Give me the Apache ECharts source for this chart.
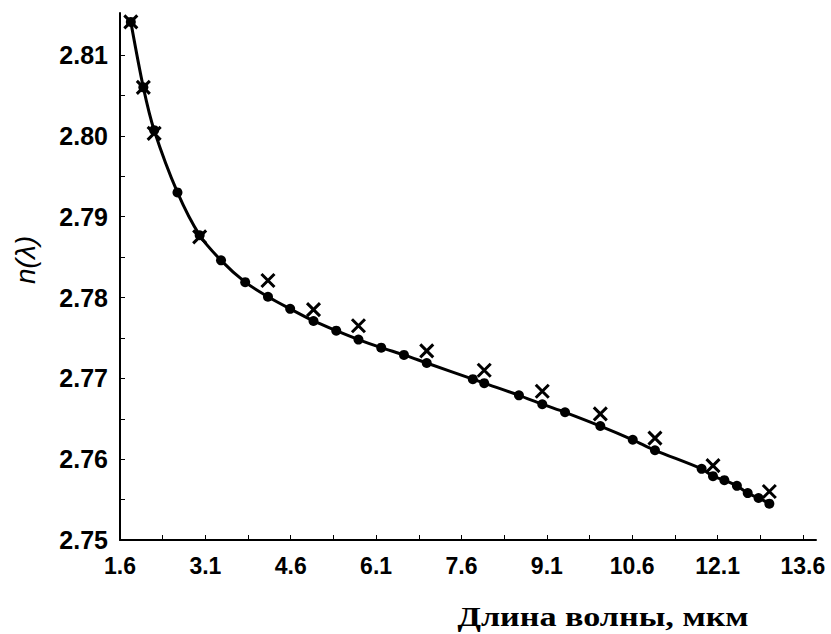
<!DOCTYPE html>
<html>
<head>
<meta charset="utf-8">
<title>n(λ)</title>
<script src="https://cdn.jsdelivr.net/npm/echarts@6/dist/echarts.min.js"></script>
<style>
  html, body { margin: 0; padding: 0; background: #fff; }
  #chart { width: 831px; height: 634px; }
</style>
</head>
<body>
<div id="chart"></div>
<script>
// Wavelength (µm) and refractive index of the computed curve (dots joined by a line)
const curveWavelength = [1.79, 2.01, 2.20, 2.61, 3.00, 3.375, 3.80, 4.20, 4.59, 5.00, 5.40, 5.79, 6.19, 6.59, 6.99,
  7.80, 8.00, 8.61, 9.02, 9.42, 10.04, 10.61, 11.00, 11.82, 12.02, 12.22, 12.44, 12.63, 12.82, 13.01];
const curveIndex = [2.8141, 2.8060, 2.8007, 2.7930, 2.7877, 2.7846, 2.7819, 2.7801, 2.7786, 2.7771, 2.7759, 2.7748, 2.7738, 2.7729, 2.7719,
  2.7699, 2.7694, 2.7679, 2.7668, 2.7658, 2.7641, 2.7624, 2.7611, 2.7588, 2.7579, 2.7574, 2.7567, 2.7558, 2.7552, 2.7545];

// Measured values (crosses)
const measuredWavelength = [1.79, 2.01, 2.20, 3.00, 4.20, 5.00, 5.79, 6.99, 8.00, 9.02, 10.04, 11.00, 12.02, 13.01];
const measuredIndex = [2.8141, 2.8060, 2.8003, 2.7875, 2.7821, 2.7785, 2.7765, 2.7734, 2.7710, 2.7684, 2.7656, 2.7626, 2.7592, 2.7560];

// Axis ticks and labels
const xLabelValues = [1.6, 3.1, 4.6, 6.1, 7.6, 9.1, 10.6, 12.1, 13.6];
const xTickValues = [1.6, 2.35, 3.1, 3.85, 4.6, 5.35, 6.1, 6.85, 7.6, 8.35, 9.1, 9.85, 10.6, 11.35, 12.1, 12.85, 13.6];
const yLabelValues = [2.75, 2.76, 2.77, 2.78, 2.79, 2.80, 2.81];
const yTickValues = [2.75, 2.755, 2.76, 2.765, 2.77, 2.775, 2.78, 2.785, 2.79, 2.795, 2.80, 2.805, 2.81];

const xTitle = 'Длина волны, мкм';
const yTitle = 'n(λ)';

const pair = (xs, ys) => xs.map((x, i) => [x, ys[i]]);

const chart = echarts.init(document.getElementById('chart'), null, { renderer: 'svg' });

const tickFont = { color: '#000', fontFamily: 'Liberation Sans, Arial, sans-serif', fontWeight: 'bold' };

chart.setOption({
  animation: false,
  backgroundColor: '#fff',
  grid: { left: 120, top: 13, right: 15, bottom: 94, containLabel: false },
  xAxis: {
    type: 'value',
    min: 1.6,
    max: 13.83,
    axisLine: { show: true, onZero: false, lineStyle: { color: '#000', width: 2 } },
    axisTick: { show: true, inside: true, length: 5, customValues: xTickValues, lineStyle: { color: '#000', width: 1 } },
    axisLabel: {
      ...tickFont, fontSize: 23, margin: 14,
      customValues: xLabelValues,
      formatter: v => Number(v).toFixed(1)
    },
    splitLine: { show: false }
  },
  yAxis: {
    type: 'value',
    min: 2.75,
    max: 2.8152,
    axisLine: { show: true, onZero: false, lineStyle: { color: '#000', width: 2 } },
    axisTick: { show: true, inside: true, length: 5, customValues: yTickValues, lineStyle: { color: '#000', width: 1 } },
    axisLabel: {
      ...tickFont, fontSize: 25, margin: 12,
      customValues: yLabelValues,
      formatter: v => Number(v).toFixed(2)
    },
    splitLine: { show: false }
  },
  graphic: [
    {
      type: 'text',
      x: 603, y: 617,
      scaleX: 1.22,
      style: {
        text: xTitle,
        fill: '#000',
        font: 'bold 28px "Liberation Serif", "Times New Roman", serif',
        textAlign: 'center',
        textVerticalAlign: 'middle'
      }
    },
    {
      type: 'text',
      x: 25, y: 260,
      rotation: Math.PI / 2,
      style: {
        text: yTitle,
        fill: '#000',
        font: 'italic 28px "Liberation Sans", Arial, sans-serif',
        textAlign: 'center',
        textVerticalAlign: 'middle'
      }
    }
  ],
  series: [
    {
      name: 'curve',
      type: 'line',
      data: pair(curveWavelength, curveIndex),
      smooth: 0.3,
      symbol: 'circle',
      symbolSize: 10,
      showSymbol: true,
      itemStyle: { color: '#000', opacity: 1 },
      lineStyle: { color: '#000', width: 3 },
      z: 2
    },
    {
      name: 'measured',
      type: 'scatter',
      data: pair(measuredWavelength, measuredIndex),
      symbol: 'path://M0,0L10,10M10,0L0,10',
      symbolSize: 13,
      itemStyle: { color: 'rgba(0,0,0,0)', borderColor: '#000', borderWidth: 3, opacity: 1 },
      z: 3
    }
  ]
});
</script>
</body>
</html>
